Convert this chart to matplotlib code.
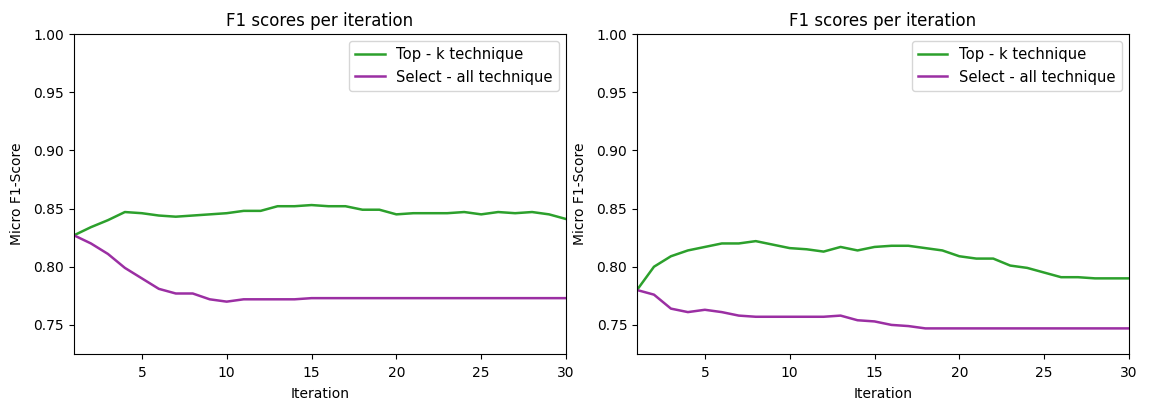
import numpy as np
import matplotlib
matplotlib.use('Agg')
import matplotlib.pyplot as plt

iterations = np.arange(1, 31)

# left run
topk_a = [0.827, 0.834, 0.840, 0.847, 0.846, 0.844, 0.843, 0.844, 0.845, 0.846,
          0.848, 0.848, 0.852, 0.852, 0.853, 0.852, 0.852, 0.849, 0.849, 0.845,
          0.846, 0.846, 0.846, 0.847, 0.845, 0.847, 0.846, 0.847, 0.845, 0.841]
selall_a = [0.827, 0.820, 0.811, 0.799, 0.790, 0.781, 0.777, 0.777, 0.772, 0.770,
            0.772, 0.772, 0.772, 0.772, 0.773, 0.773, 0.773, 0.773, 0.773, 0.773,
            0.773, 0.773, 0.773, 0.773, 0.773, 0.773, 0.773, 0.773, 0.773, 0.773]

# right run
topk_b = [0.780, 0.800, 0.809, 0.814, 0.817, 0.820, 0.820, 0.822, 0.819, 0.816,
          0.815, 0.813, 0.817, 0.814, 0.817, 0.818, 0.818, 0.816, 0.814, 0.809,
          0.807, 0.807, 0.801, 0.799, 0.795, 0.791, 0.791, 0.790, 0.790, 0.790]
selall_b = [0.780, 0.776, 0.764, 0.761, 0.763, 0.761, 0.758, 0.757, 0.757, 0.757,
            0.757, 0.757, 0.758, 0.754, 0.753, 0.750, 0.749, 0.747, 0.747, 0.747,
            0.747, 0.747, 0.747, 0.747, 0.747, 0.747, 0.747, 0.747, 0.747, 0.747]

runs = [(topk_a, selall_a), (topk_b, selall_b)]

fig = plt.figure(figsize=(11.54, 4), dpi=100)
ax1 = fig.add_axes([0.0641, 0.115, 0.4264, 0.80])
ax2 = fig.add_axes([0.5520, 0.115, 0.4263, 0.80])

for ax, (tk, sa) in zip([ax1, ax2], runs):
    ax.plot(iterations, tk, color='#2ca02c', lw=1.8, label='Top - k technique')
    ax.plot(iterations, sa, color='#9b2fa3', lw=1.8, label='Select - all technique')
    ax.set_xlim(1, 30)
    ax.set_ylim(0.725, 1.0)
    ax.set_xticks([5, 10, 15, 20, 25, 30])
    ax.set_yticks([0.75, 0.80, 0.85, 0.90, 0.95, 1.00])
    ax.tick_params(axis='x', pad=5)
    ax.set_title('F1 scores per iteration', fontsize=12)
    ax.set_xlabel('Iteration', labelpad=5)
    ax.set_ylabel('Micro F1-Score', labelpad=7)
    ax.legend(loc='upper right', fontsize=10.6)

fig.savefig('out.png', dpi=100)
